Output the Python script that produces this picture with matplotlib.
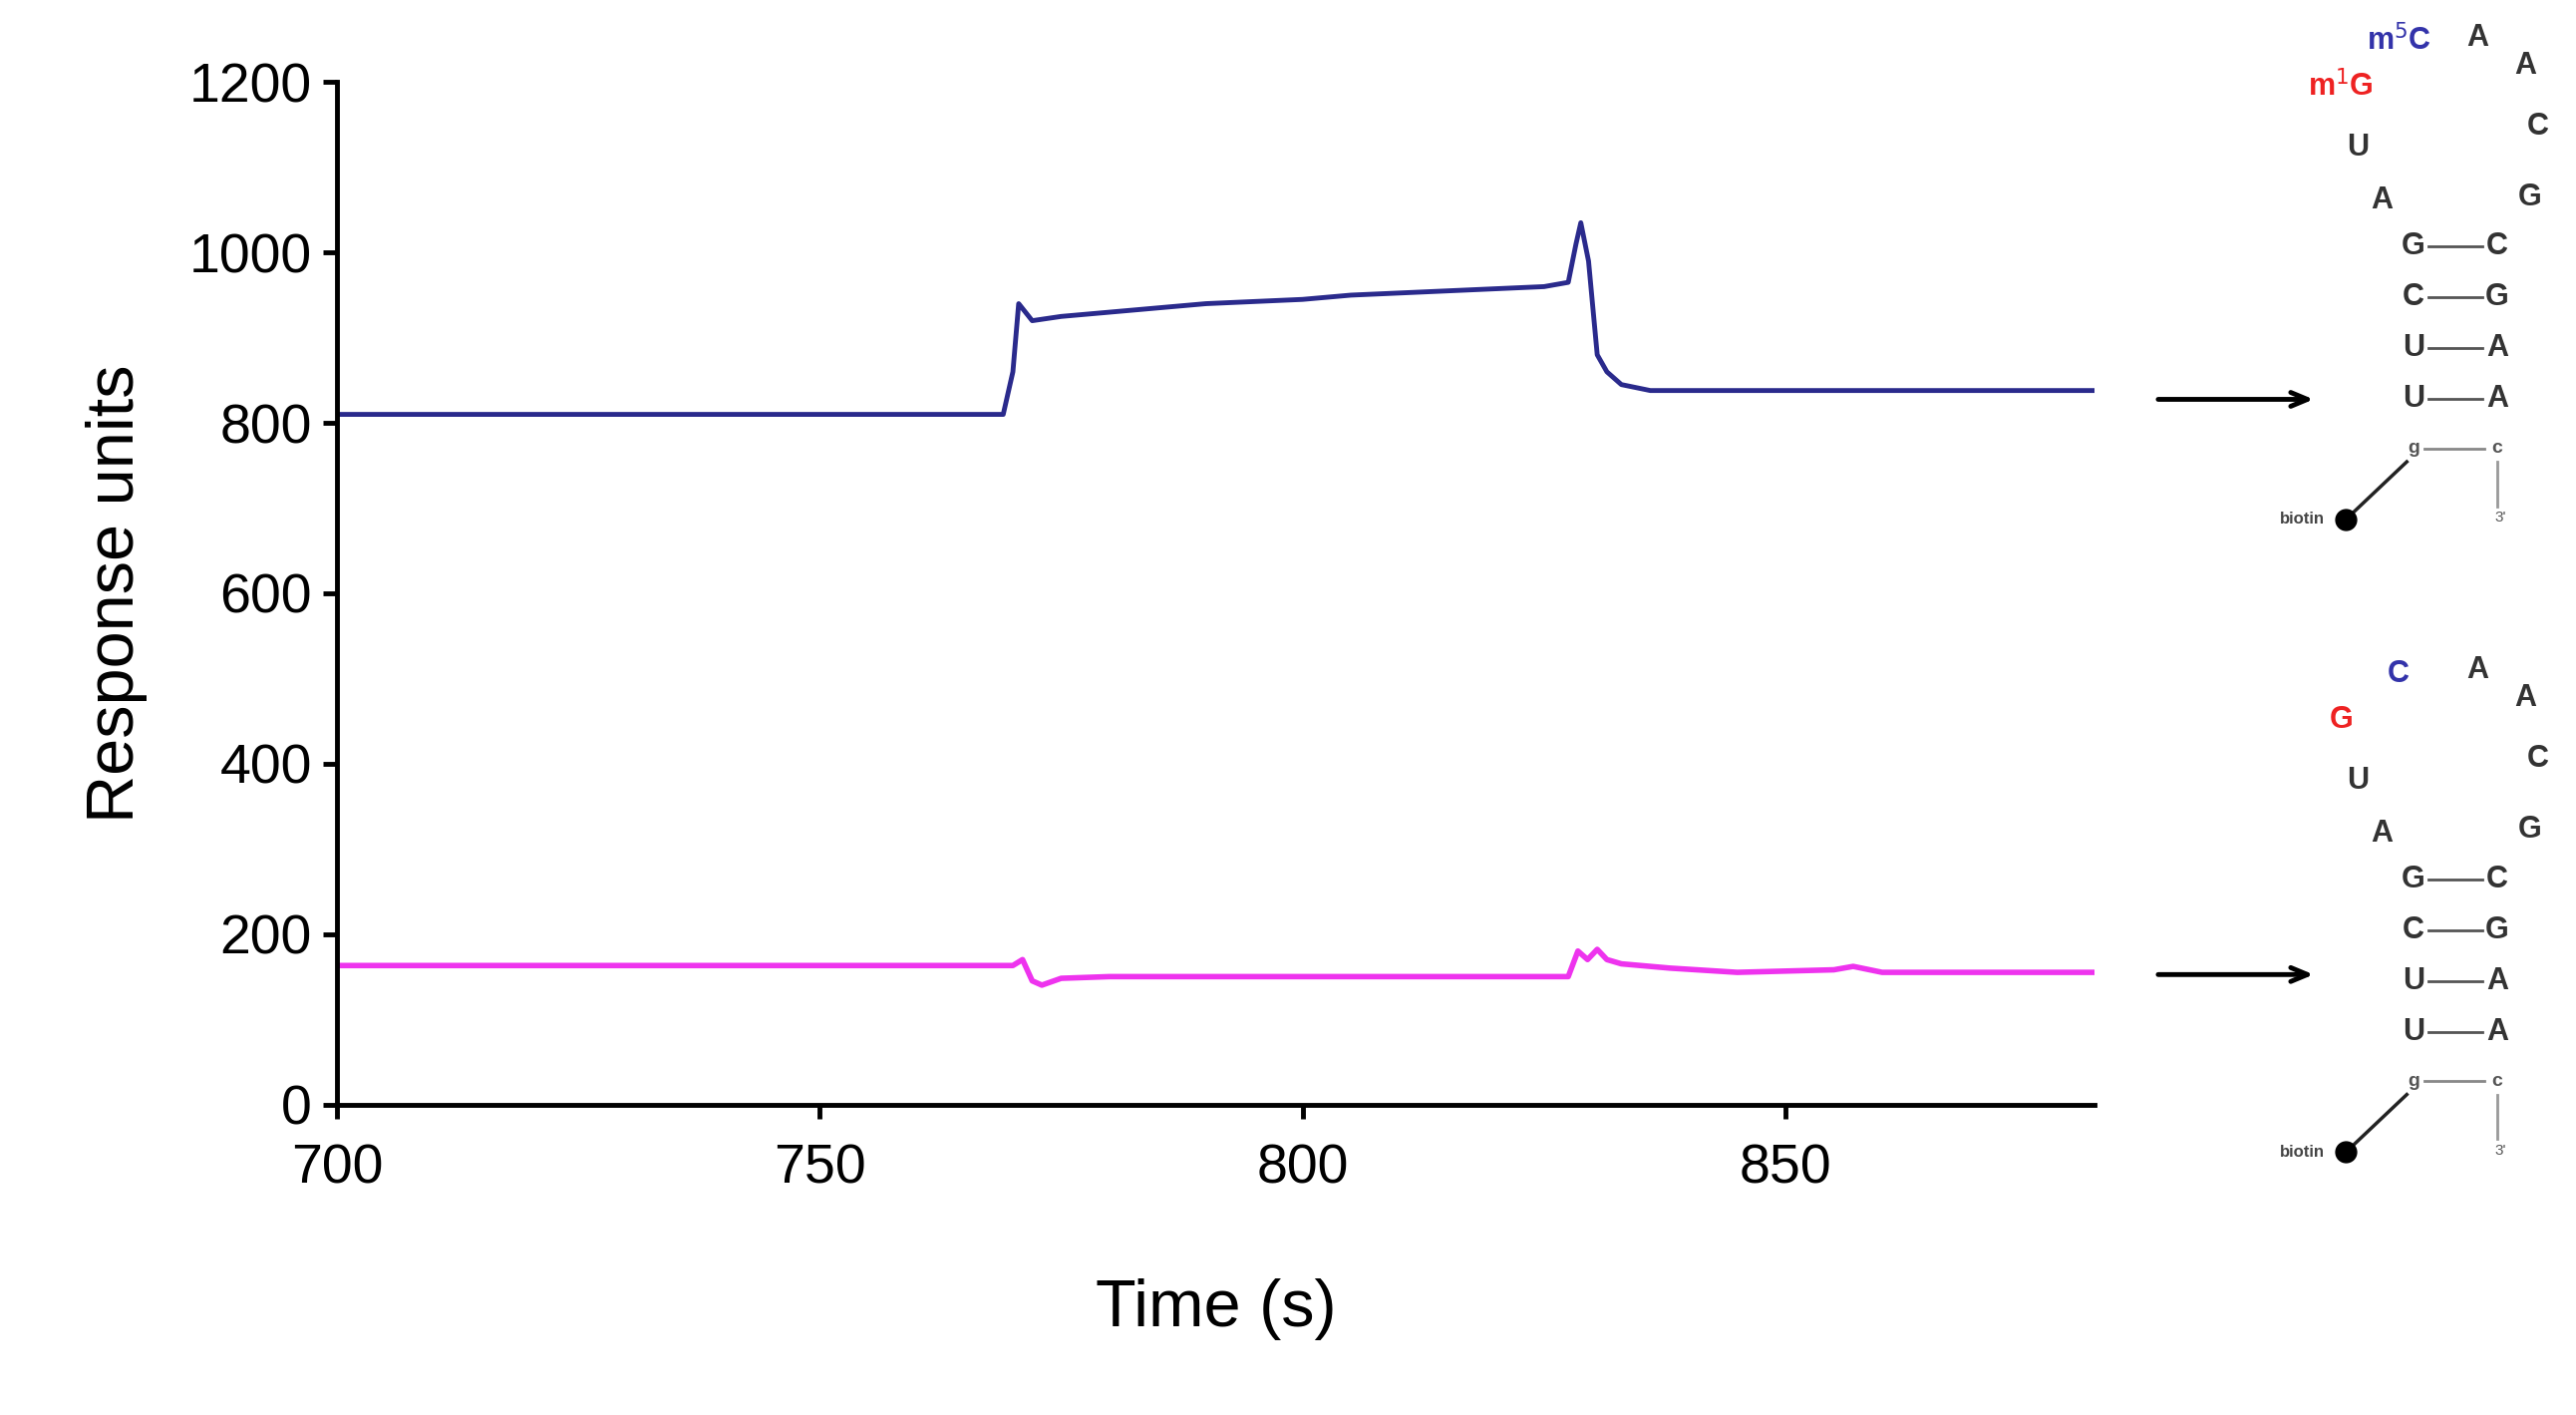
import numpy as np
import matplotlib.pyplot as plt

# sensorgram traces (time in s, response units)
blue_t = [700, 769, 770.0, 770.6, 771.3, 772, 775, 780, 790, 800, 805, 815, 825, 827.5, 828.3, 828.8, 829.6, 830.5, 831.5, 833, 836, 850, 882]
blue_ru = [810, 810, 860, 940, 930, 920, 925, 930, 940, 945, 950, 955, 960, 965, 1010, 1035, 990, 880, 860, 845, 838, 838, 838]
mag_t = [700, 770, 771, 772, 773, 775, 780, 800, 827.5, 828.5, 829.5, 830.5, 831.5, 833, 838, 845, 855, 857, 860, 882]
mag_ru = [163, 163, 170, 145, 140, 148, 150, 150, 150, 180, 170, 182, 170, 165, 160, 155, 158, 162, 155, 155]

W, H = 1568.0, 861.0  # reference drawn at this scale


def fx(x):
    return x / W


def fy(y):
    return 1 - y / H


plt.rcParams['font.family'] = ['Liberation Sans', 'DejaVu Sans']
fig = plt.figure(figsize=(25.84, 14.19), dpi=100)
ax = fig.add_axes([fx(205), fy(672), fx(1275) - fx(205), fy(50) - fy(672)])
ax.plot(blue_t, blue_ru, color='#2a2a8c', lw=3.5)
ax.plot(mag_t, mag_ru, color='#ee33ee', lw=4)
ax.set_xlim(700, 882)
ax.set_ylim(0, 1200)
ax.set_xticks([700, 750, 800, 850])
ax.set_yticks(range(0, 1201, 200))
for s in ['top', 'right']:
    ax.spines[s].set_visible(False)
for s in ['left', 'bottom']:
    ax.spines[s].set_linewidth(3.5)
ax.tick_params(labelsize=40, width=3.5, length=10)
ax.tick_params(axis='x', pad=18)
ax.tick_params(axis='y', pad=8)
ax.set_xlabel('Time (s)', fontsize=48, labelpad=60)
ax.set_ylabel('Response units', fontsize=48, labelpad=30)


def rna(y0, c5, g5, arrow_y):
    fs = 22
    k = 'bold'
    fig.text(fx(1460), fy(y0 + 0), c5, color='#3333aa', fontsize=fs, weight=k, ha='center', va='center')
    fig.text(fx(1508), fy(y0 - 2), 'A', fontsize=fs, weight=k, ha='center', va='center', color='#333333')
    fig.text(fx(1425), fy(y0 + 28), g5, color='#ee2222', fontsize=fs, weight=k, ha='center', va='center')
    fig.text(fx(1537), fy(y0 + 15), 'A', fontsize=fs, weight=k, ha='center', va='center', color='#333333')
    fig.text(fx(1545), fy(y0 + 52), 'C', fontsize=fs, weight=k, ha='center', va='center', color='#333333')
    fig.text(fx(1435), fy(y0 + 65), 'U', fontsize=fs, weight=k, ha='center', va='center', color='#333333')
    fig.text(fx(1540), fy(y0 + 95), 'G', fontsize=fs, weight=k, ha='center', va='center', color='#333333')
    fig.text(fx(1450), fy(y0 + 97), 'A', fontsize=fs, weight=k, ha='center', va='center', color='#333333')
    pairs = [('G', 'C'), ('C', 'G'), ('U', 'A'), ('U', 'A')]
    for i, (a, b) in enumerate(pairs):
        yy = fy(y0 + 125 + i * 31)
        fig.text(fx(1469), yy, a, fontsize=fs, weight=k, ha='center', va='center', color='#333333')
        fig.text(fx(1520), yy, b, fontsize=fs, weight=k, ha='center', va='center', color='#333333')
        fig.add_artist(plt.Line2D([fx(1478), fx(1511)], [yy, yy], color='#555555', lw=2))
    yy = fy(y0 + 248)
    fig.text(fx(1469), yy, 'g', fontsize=14, weight=k, ha='center', va='center', color='#555555')
    fig.text(fx(1520), yy, 'c', fontsize=14, weight=k, ha='center', va='center', color='#555555')
    fig.add_artist(plt.Line2D([fx(1476), fx(1512)], [yy, yy], color='#888888', lw=2))
    fig.add_artist(plt.Line2D([fx(1520), fx(1520)], [fy(y0 + 256), fy(y0 + 283)], color='#999999', lw=2))
    fig.text(fx(1522), fy(y0 + 290), "3'", fontsize=11, ha='center', va='center', color='#555555')
    fig.add_artist(plt.Line2D([fx(1428), fx(1465)], [fy(y0 + 291), fy(y0 + 256)], color='#222222', lw=2.5))
    fig.add_artist(plt.Line2D([fx(1428)], [fy(y0 + 291)], marker='o', ms=15, color='black'))
    fig.text(fx(1415), fy(y0 + 291), 'biotin', fontsize=12, weight=k, ha='right', va='center', color='#444444')
    ax.annotate('', xy=(fx(1410), fy(arrow_y)), xytext=(fx(1312), fy(arrow_y)),
                xycoords='figure fraction', arrowprops=dict(arrowstyle='->,head_width=0.5,head_length=1.2', lw=3.5, color='black'))


rna(25, 'm$^5$C', 'm$^1$G', 243)
rna(410, 'C', 'G', 593)

fig.savefig('out.png')
